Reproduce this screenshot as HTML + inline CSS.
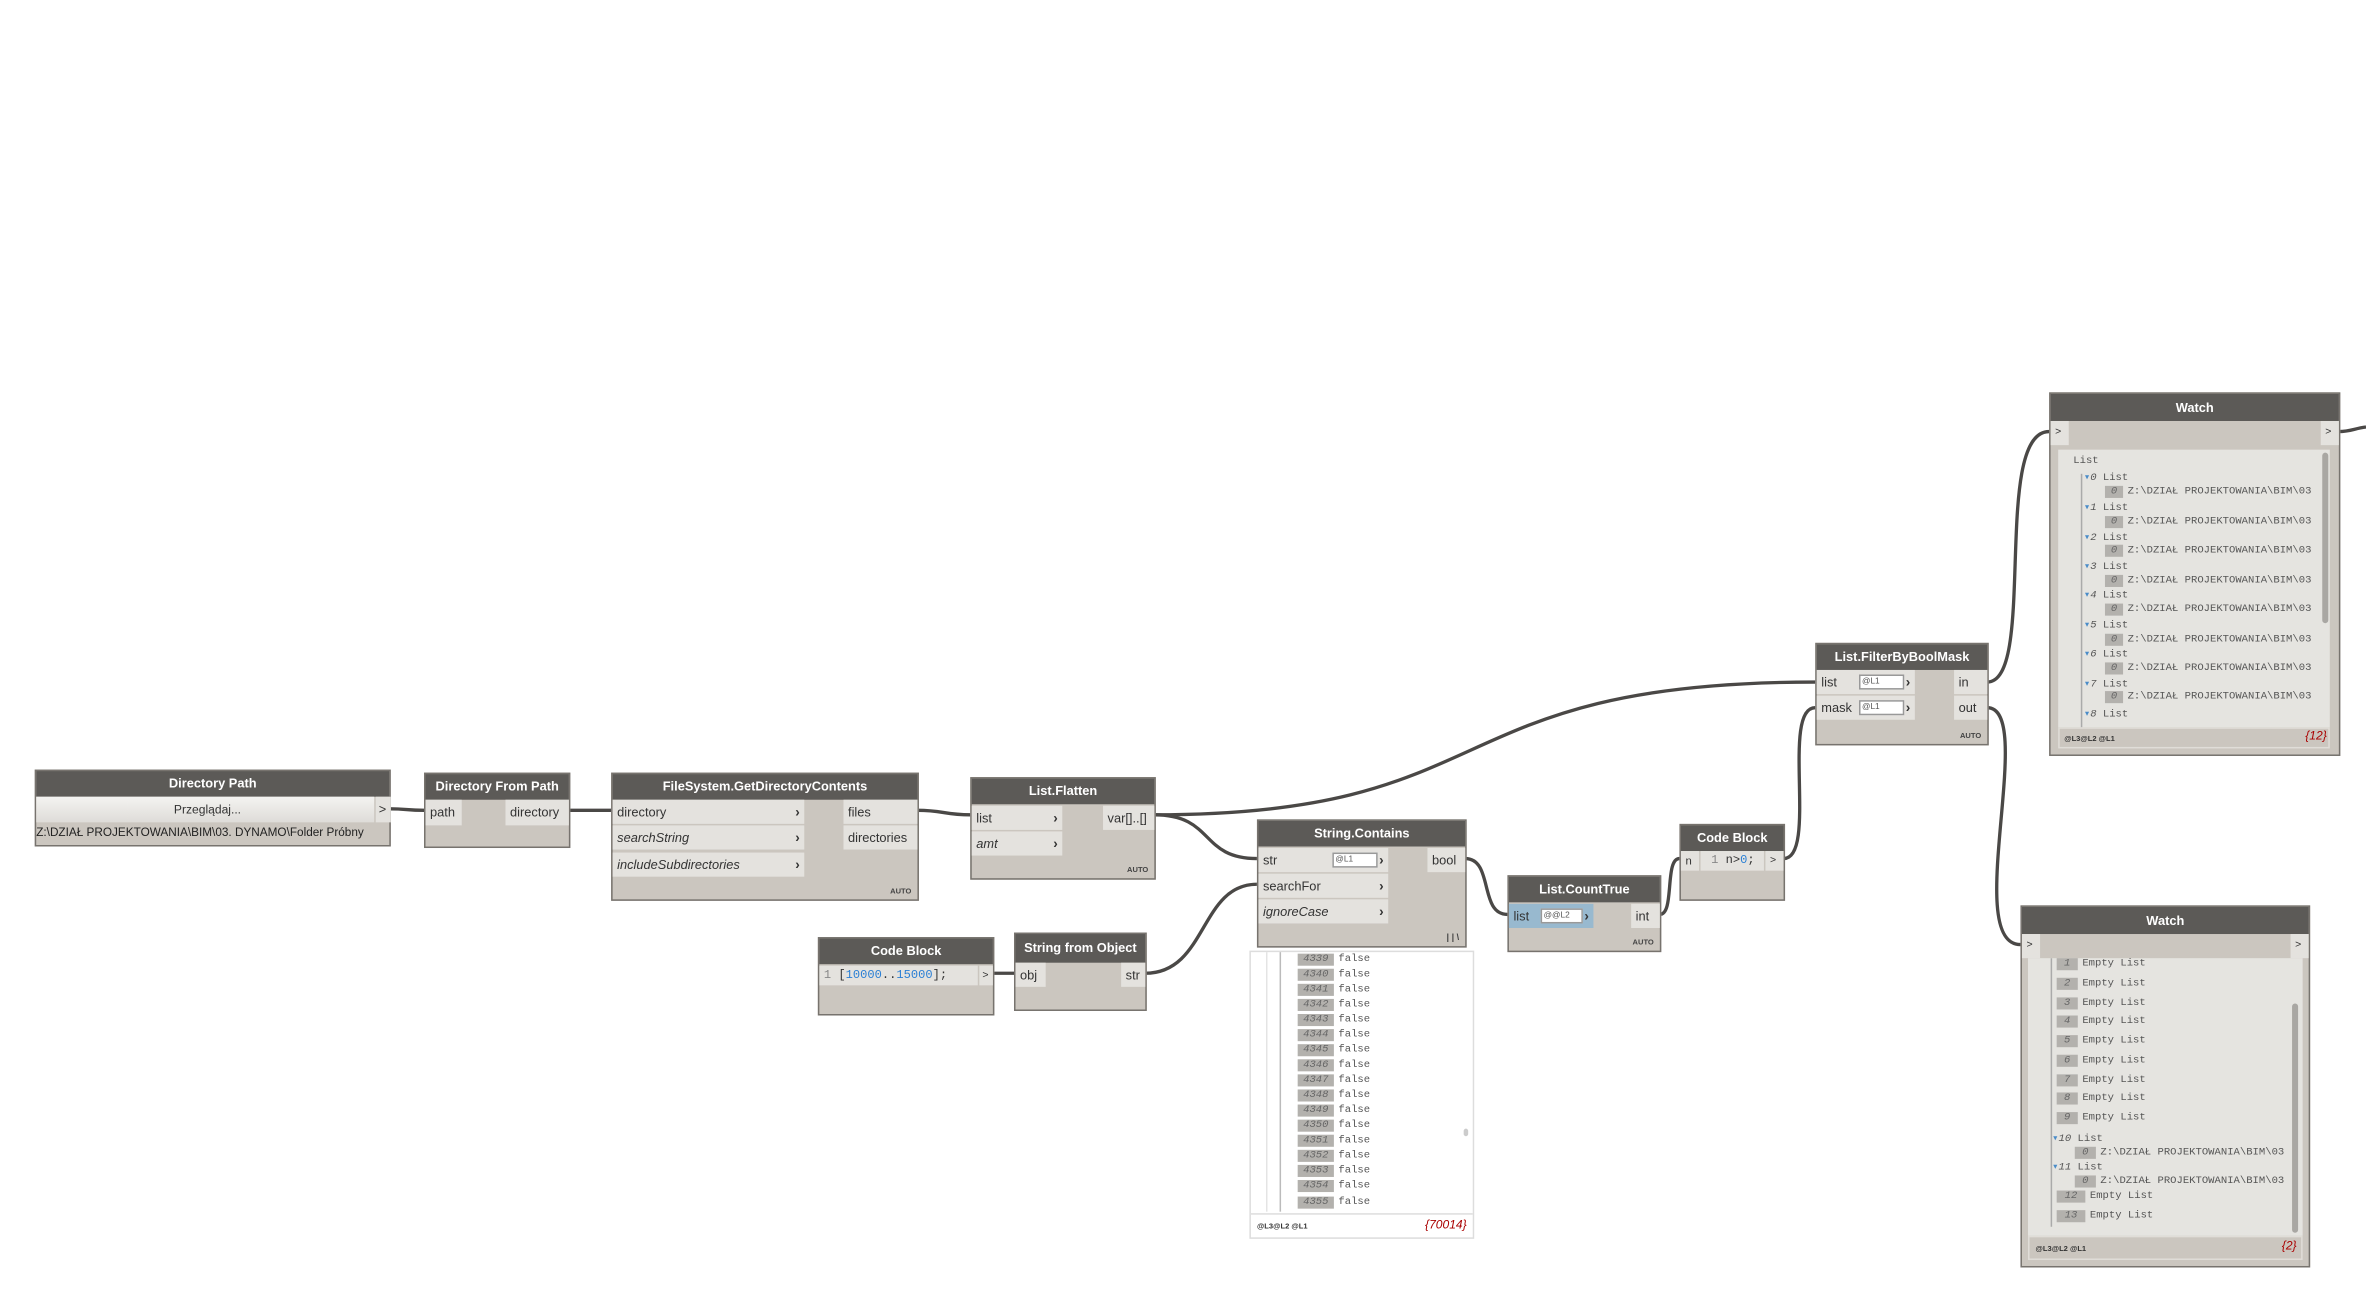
<!DOCTYPE html>
<html><head><meta charset="utf-8">
<style>
html,body{margin:0;padding:0;background:#fff;overflow:hidden;width:2366px;height:1313px;}
#c{position:absolute;left:0;top:0;width:1568px;height:870px;transform:scale(1.50893);transform-origin:0 0;font-family:"Liberation Sans",sans-serif;}
.n{position:absolute;background:#cbc6bf;border:1px solid #77736e;box-sizing:border-box;}
.h{position:absolute;left:0;right:0;top:0;background:#5c5a57;color:#fff;font-weight:bold;font-size:8.5px;text-align:center;}
.p{position:absolute;background:#e4e2de;color:#333;font-size:8.5px;box-sizing:border-box;padding-left:3px;white-space:nowrap;}
.i{font-style:italic;}
.ar{position:absolute;right:3px;font-weight:bold;font-size:9px;}
.auto{position:absolute;right:4px;bottom:2px;font-size:5px;font-weight:bold;color:#444;}
.sp{position:absolute;background:#fff;border:1px solid #999;font-size:5.5px;color:#555;box-sizing:border-box;height:10px;line-height:8px;padding-left:1px;}
.m{font-family:"Liberation Mono",monospace;font-size:7px;color:#555;position:absolute;white-space:nowrap;}
.ix{display:inline-block;background:#b3b1ad;color:#666;font-style:italic;text-align:center;margin-right:3px;}
.ft{position:absolute;font-size:5px;font-weight:bold;color:#333;}
.cnt{position:absolute;font-size:8px;font-style:italic;color:#a00;}
</style></head><body><div id="c">
<svg width="1568" height="870" style="position:absolute;left:0;top:0" fill="none" stroke="#4a4846" stroke-width="2.2">
<path d="M258,536 C270,536 269,537 281,537"/>
<path d="M377,537 C391,537 391,537 405,537"/>
<path d="M608,537 C625,537 626,540 643,540"/>
<path d="M765,540 C805,540 795,569 833,569"/>
<path d="M765,540 C1000,540 950,452 1203,452"/>
<path d="M658,645 C665,645 665,645 672,645"/>
<path d="M759,645 C800,645 795,586 833,586"/>
<path d="M971,569 C990,569 980,606 999,606"/>
<path d="M1100,606 C1110,606 1103,569 1113,569"/>
<path d="M1182,569 C1205,569 1180,469 1203,469"/>
<path d="M1317,452 C1350,452 1320,286 1358,286"/>
<path d="M1317,469 C1350,469 1300,626 1339,626"/>
<path d="M1550,286 C1558,286 1560,284 1568,283"/>
</svg>

<!-- Directory Path -->
<div class="n" style="left:23px;top:510px;width:236px;height:51px;">
<div class="h" style="height:17px;line-height:17px;">Directory Path</div>
<div class="p" style="left:0;top:17px;width:224px;height:17px;line-height:17px;text-align:center;background:linear-gradient(#f4f3f1,#dedcd8);font-size:8px;">Przeglądaj...</div>
<div class="p" style="left:225px;top:17px;width:10px;height:17px;line-height:17px;padding-left:2px;">&gt;</div>
<div style="position:absolute;left:0;top:36px;font-size:7.8px;color:#222;white-space:nowrap;">Z:\DZIAŁ PROJEKTOWANIA\BIM\03. DYNAMO\Folder Próbny</div>
</div>

<!-- Directory From Path -->
<div class="n" style="left:281px;top:512px;width:97px;height:50px;">
<div class="h" style="height:17px;line-height:17px;">Directory From Path</div>
<div class="p" style="left:0;top:17px;width:24px;height:17px;line-height:17px;">path</div>
<div class="p" style="left:53px;top:17px;width:42px;height:17px;line-height:17px;">directory</div>
</div>

<!-- GetDirectoryContents -->
<div class="n" style="left:405px;top:512px;width:204px;height:85px;">
<div class="h" style="height:17px;line-height:17px;">FileSystem.GetDirectoryContents</div>
<div class="p" style="left:0;top:17px;width:127px;height:16px;line-height:16px;">directory<span class="ar">›</span></div>
<div class="p i" style="left:0;top:34px;width:127px;height:16px;line-height:16px;">searchString<span class="ar" style="font-style:normal">›</span></div>
<div class="p i" style="left:0;top:52px;width:127px;height:16px;line-height:16px;">includeSubdirectories<span class="ar" style="font-style:normal">›</span></div>
<div class="p" style="left:153px;top:17px;width:49px;height:16px;line-height:16px;">files</div>
<div class="p" style="left:153px;top:34px;width:49px;height:16px;line-height:16px;">directories</div>
<div class="auto">AUTO</div>
</div>

<!-- List.Flatten -->
<div class="n" style="left:643px;top:515px;width:123px;height:68px;">
<div class="h" style="height:17px;line-height:17px;">List.Flatten</div>
<div class="p" style="left:0;top:18px;width:60px;height:16px;line-height:16px;">list<span class="ar">›</span></div>
<div class="p i" style="left:0;top:35px;width:60px;height:16px;line-height:16px;">amt<span class="ar" style="font-style:normal">›</span></div>
<div class="p" style="left:87px;top:18px;width:34px;height:16px;line-height:16px;">var[]..[]</div>
<div class="auto">AUTO</div>
</div>

<!-- Code Block 1 -->
<div class="n" style="left:542px;top:621px;width:117px;height:52px;">
<div class="h" style="height:17px;line-height:17px;">Code Block</div>
<div class="p" style="left:0;top:18px;width:105px;height:13px;line-height:13px;font-family:'Liberation Mono',monospace;font-size:8px;"><span style="color:#888">1</span> [<span style="color:#2a7fd4">10000</span>..<span style="color:#2a7fd4">15000</span>];</div>
<div class="p" style="left:106px;top:18px;width:9px;height:13px;line-height:13px;padding-left:2px;font-size:7px;">&gt;</div>
</div>

<!-- String from Object -->
<div class="n" style="left:672px;top:618px;width:88px;height:52px;">
<div class="h" style="height:19px;line-height:19px;">String from Object</div>
<div class="p" style="left:0;top:19px;width:20px;height:16px;line-height:16px;">obj</div>
<div class="p" style="left:70px;top:19px;width:16px;height:16px;line-height:16px;">str</div>
</div>

<!-- String.Contains -->
<div class="n" style="left:833px;top:543px;width:139px;height:85px;">
<div class="h" style="height:17px;line-height:17px;">String.Contains</div>
<div class="p" style="left:0;top:18px;width:86px;height:16px;line-height:16px;">str<span class="ar">›</span></div>
<div class="sp" style="left:49px;top:21px;width:30px;">@L1</div>
<div class="p" style="left:0;top:35px;width:86px;height:16px;line-height:16px;">searchFor<span class="ar">›</span></div>
<div class="p i" style="left:0;top:52px;width:86px;height:16px;line-height:16px;">ignoreCase<span class="ar" style="font-style:normal">›</span></div>
<div class="p" style="left:112px;top:18px;width:25px;height:16px;line-height:16px;">bool</div>
<div class="auto" style="font-size:6px;">| | \</div>
</div>
<!-- preview -->
<div style="position:absolute;left:828px;top:630px;width:149px;height:191px;background:#fff;border:1px solid #ddd;box-sizing:border-box;">
<div style="position:absolute;left:10px;top:0;height:172px;border-left:1px solid #e4e4e4;"></div>
<div style="position:absolute;left:19px;top:0;height:172px;border-left:1px solid #bbb;"></div>
<div style="position:absolute;left:141px;top:117px;width:3px;height:5px;background:#ccc;border-radius:2px;"></div>
<div style="position:absolute;left:0;right:0;top:173px;border-top:1px solid #ddd;"></div>
<div class="ft" style="left:4px;top:179px;">@L3@L2 @L1</div>
<div class="cnt" style="right:4px;top:176px;">{70014}</div>
</div>
<div id="pv"></div>

<!-- List.CountTrue -->
<div class="n" style="left:999px;top:580px;width:102px;height:51px;">
<div class="h" style="height:17px;line-height:17px;">List.CountTrue</div>
<div class="p" style="left:0;top:18px;width:56px;height:16px;line-height:16px;background:#98b9cf;">list<span class="ar">›</span></div>
<div class="sp" style="left:21px;top:21px;width:28px;">@@L2</div>
<div class="p" style="left:81px;top:18px;width:19px;height:16px;line-height:16px;">int</div>
<div class="auto">AUTO</div>
</div>

<!-- Code Block 2 -->
<div class="n" style="left:1113px;top:546px;width:70px;height:51px;">
<div class="h" style="height:17px;line-height:17px;">Code Block</div>
<div class="p" style="left:0;top:17px;width:12px;height:13px;line-height:13px;font-size:7.5px;">n</div>
<div class="p" style="left:13px;top:17px;width:42px;height:13px;line-height:13px;font-family:'Liberation Mono',monospace;font-size:8px;padding-left:7px;"><span style="color:#888">1</span> n&gt;<span style="color:#2a7fd4">0</span>;</div>
<div class="p" style="left:56px;top:17px;width:12px;height:13px;line-height:13px;font-size:7px;">&gt;</div>
</div>

<!-- FilterByBoolMask -->
<div class="n" style="left:1203px;top:426px;width:115px;height:68px;">
<div class="h" style="height:17px;line-height:17px;">List.FilterByBoolMask</div>
<div class="p" style="left:0;top:17px;width:65px;height:16px;line-height:16px;">list<span class="ar">›</span></div>
<div class="sp" style="left:28px;top:20px;width:30px;">@L1</div>
<div class="p" style="left:0;top:34px;width:65px;height:16px;line-height:16px;">mask<span class="ar">›</span></div>
<div class="sp" style="left:28px;top:37px;width:30px;">@L1</div>
<div class="p" style="left:91px;top:17px;width:22px;height:16px;line-height:16px;">in</div>
<div class="p" style="left:91px;top:34px;width:22px;height:16px;line-height:16px;">out</div>
<div class="auto">AUTO</div>
</div>

<!-- Watch top -->
<div class="n" style="left:1358px;top:260px;width:193px;height:241px;">
<div class="h" style="height:18px;line-height:18px;">Watch</div>
<div class="p" style="left:0;top:18px;width:12px;height:16px;line-height:16px;font-size:7px;">&gt;</div>
<div class="p" style="right:0;top:18px;width:12px;height:16px;line-height:16px;font-size:7px;">&gt;</div>
<div style="position:absolute;left:5px;top:37px;width:180px;height:184px;background:#e5e4e0;overflow:hidden;">
<div style="position:absolute;left:15px;top:16px;height:170px;border-left:1px solid #aaa;"></div>
<div style="position:absolute;left:175px;top:2px;width:4px;height:113px;background:#a9a7a3;border-radius:2px;"></div>
<div class="m" style="left:10px;top:4px;">List</div>
<div id="wt"></div>
</div>
<div style="position:absolute;left:5px;top:221px;width:180px;height:14px;border:1px solid #e0ddd8;box-sizing:border-box;"></div>
<div class="ft" style="left:9px;top:226px;">@L3@L2 @L1</div>
<div class="cnt" style="right:8px;top:222px;">{12}</div>
</div>

<!-- Watch bottom -->
<div class="n" style="left:1339px;top:600px;width:192px;height:240px;">
<div class="h" style="height:18px;line-height:18px;">Watch</div>
<div class="p" style="left:0;top:18px;width:12px;height:16px;line-height:16px;font-size:7px;">&gt;</div>
<div class="p" style="right:0;top:18px;width:12px;height:16px;line-height:16px;font-size:7px;">&gt;</div>
<div style="position:absolute;left:4px;top:34px;width:182px;height:184px;background:#e5e4e0;overflow:hidden;">
<div style="position:absolute;left:15px;top:0;height:178px;border-left:1px solid #aaa;"></div>
<div style="position:absolute;left:175px;top:30px;width:4px;height:152px;background:#a9a7a3;border-radius:2px;"></div>
<div id="wb"></div>
</div>
<div style="position:absolute;left:4px;top:218px;width:182px;height:16px;border:1px solid #e0ddd8;box-sizing:border-box;"></div>
<div class="ft" style="left:9px;top:224px;">@L3@L2 @L1</div>
<div class="cnt" style="right:8px;top:220px;">{2}</div>
</div>

<!-- static contents -->
<div style="position:absolute;left:828px;top:630px;">
<div class="m" style="left:32px;top:2px;"><span class="ix" style="width:24px">4339</span>false</div>
<div class="m" style="left:32px;top:12px;"><span class="ix" style="width:24px">4340</span>false</div>
<div class="m" style="left:32px;top:22px;"><span class="ix" style="width:24px">4341</span>false</div>
<div class="m" style="left:32px;top:32px;"><span class="ix" style="width:24px">4342</span>false</div>
<div class="m" style="left:32px;top:42px;"><span class="ix" style="width:24px">4343</span>false</div>
<div class="m" style="left:32px;top:52px;"><span class="ix" style="width:24px">4344</span>false</div>
<div class="m" style="left:32px;top:62px;"><span class="ix" style="width:24px">4345</span>false</div>
<div class="m" style="left:32px;top:72px;"><span class="ix" style="width:24px">4346</span>false</div>
<div class="m" style="left:32px;top:82px;"><span class="ix" style="width:24px">4347</span>false</div>
<div class="m" style="left:32px;top:92px;"><span class="ix" style="width:24px">4348</span>false</div>
<div class="m" style="left:32px;top:102px;"><span class="ix" style="width:24px">4349</span>false</div>
<div class="m" style="left:32px;top:112px;"><span class="ix" style="width:24px">4350</span>false</div>
<div class="m" style="left:32px;top:122px;"><span class="ix" style="width:24px">4351</span>false</div>
<div class="m" style="left:32px;top:132px;"><span class="ix" style="width:24px">4352</span>false</div>
<div class="m" style="left:32px;top:142px;"><span class="ix" style="width:24px">4353</span>false</div>
<div class="m" style="left:32px;top:152px;"><span class="ix" style="width:24px">4354</span>false</div>
<div class="m" style="left:32px;top:163px;"><span class="ix" style="width:24px">4355</span>false</div>
</div>

<div style="position:absolute;left:1363px;top:297px;">
<div class="m" style="left:18px;top:15px;"><span style="color:#4a8cc8">▾</span><i>0</i> List</div>
<div class="m" style="left:32px;top:25px;"><span class="ix" style="width:12px">0</span>Z:\DZIAŁ PROJEKTOWANIA\BIM\03</div>
<div class="m" style="left:18px;top:35px;"><span style="color:#4a8cc8">▾</span><i>1</i> List</div>
<div class="m" style="left:32px;top:45px;"><span class="ix" style="width:12px">0</span>Z:\DZIAŁ PROJEKTOWANIA\BIM\03</div>
<div class="m" style="left:18px;top:55px;"><span style="color:#4a8cc8">▾</span><i>2</i> List</div>
<div class="m" style="left:32px;top:64px;"><span class="ix" style="width:12px">0</span>Z:\DZIAŁ PROJEKTOWANIA\BIM\03</div>
<div class="m" style="left:18px;top:74px;"><span style="color:#4a8cc8">▾</span><i>3</i> List</div>
<div class="m" style="left:32px;top:84px;"><span class="ix" style="width:12px">0</span>Z:\DZIAŁ PROJEKTOWANIA\BIM\03</div>
<div class="m" style="left:18px;top:93px;"><span style="color:#4a8cc8">▾</span><i>4</i> List</div>
<div class="m" style="left:32px;top:103px;"><span class="ix" style="width:12px">0</span>Z:\DZIAŁ PROJEKTOWANIA\BIM\03</div>
<div class="m" style="left:18px;top:113px;"><span style="color:#4a8cc8">▾</span><i>5</i> List</div>
<div class="m" style="left:32px;top:123px;"><span class="ix" style="width:12px">0</span>Z:\DZIAŁ PROJEKTOWANIA\BIM\03</div>
<div class="m" style="left:18px;top:132px;"><span style="color:#4a8cc8">▾</span><i>6</i> List</div>
<div class="m" style="left:32px;top:142px;"><span class="ix" style="width:12px">0</span>Z:\DZIAŁ PROJEKTOWANIA\BIM\03</div>
<div class="m" style="left:18px;top:152px;"><span style="color:#4a8cc8">▾</span><i>7</i> List</div>
<div class="m" style="left:32px;top:161px;"><span class="ix" style="width:12px">0</span>Z:\DZIAŁ PROJEKTOWANIA\BIM\03</div>
<div class="m" style="left:18px;top:172px;"><span style="color:#4a8cc8">▾</span><i>8</i> List</div>
</div>

<div style="position:absolute;left:1343px;top:634px;height:183px;width:176px;overflow:hidden;">
<div class="m" style="left:20px;top:1px;"><span class="ix" style="width:14px">1</span>Empty List</div>
<div class="m" style="left:20px;top:14px;"><span class="ix" style="width:14px">2</span>Empty List</div>
<div class="m" style="left:20px;top:27px;"><span class="ix" style="width:14px">3</span>Empty List</div>
<div class="m" style="left:20px;top:39px;"><span class="ix" style="width:14px">4</span>Empty List</div>
<div class="m" style="left:20px;top:52px;"><span class="ix" style="width:14px">5</span>Empty List</div>
<div class="m" style="left:20px;top:65px;"><span class="ix" style="width:14px">6</span>Empty List</div>
<div class="m" style="left:20px;top:78px;"><span class="ix" style="width:14px">7</span>Empty List</div>
<div class="m" style="left:20px;top:90px;"><span class="ix" style="width:14px">8</span>Empty List</div>
<div class="m" style="left:20px;top:103px;"><span class="ix" style="width:14px">9</span>Empty List</div>
<div class="m" style="left:17px;top:116px;"><span style="color:#4a8cc8">▾</span><i>10</i> List</div>
<div class="m" style="left:32px;top:126px;"><span class="ix" style="width:14px">0</span>Z:\DZIAŁ PROJEKTOWANIA\BIM\03</div>
<div class="m" style="left:17px;top:135px;"><span style="color:#4a8cc8">▾</span><i>11</i> List</div>
<div class="m" style="left:32px;top:145px;"><span class="ix" style="width:14px">0</span>Z:\DZIAŁ PROJEKTOWANIA\BIM\03</div>
<div class="m" style="left:20px;top:155px;"><span class="ix" style="width:19px">12</span>Empty List</div>
<div class="m" style="left:20px;top:168px;"><span class="ix" style="width:19px">13</span>Empty List</div>
</div>
</div></body></html>
